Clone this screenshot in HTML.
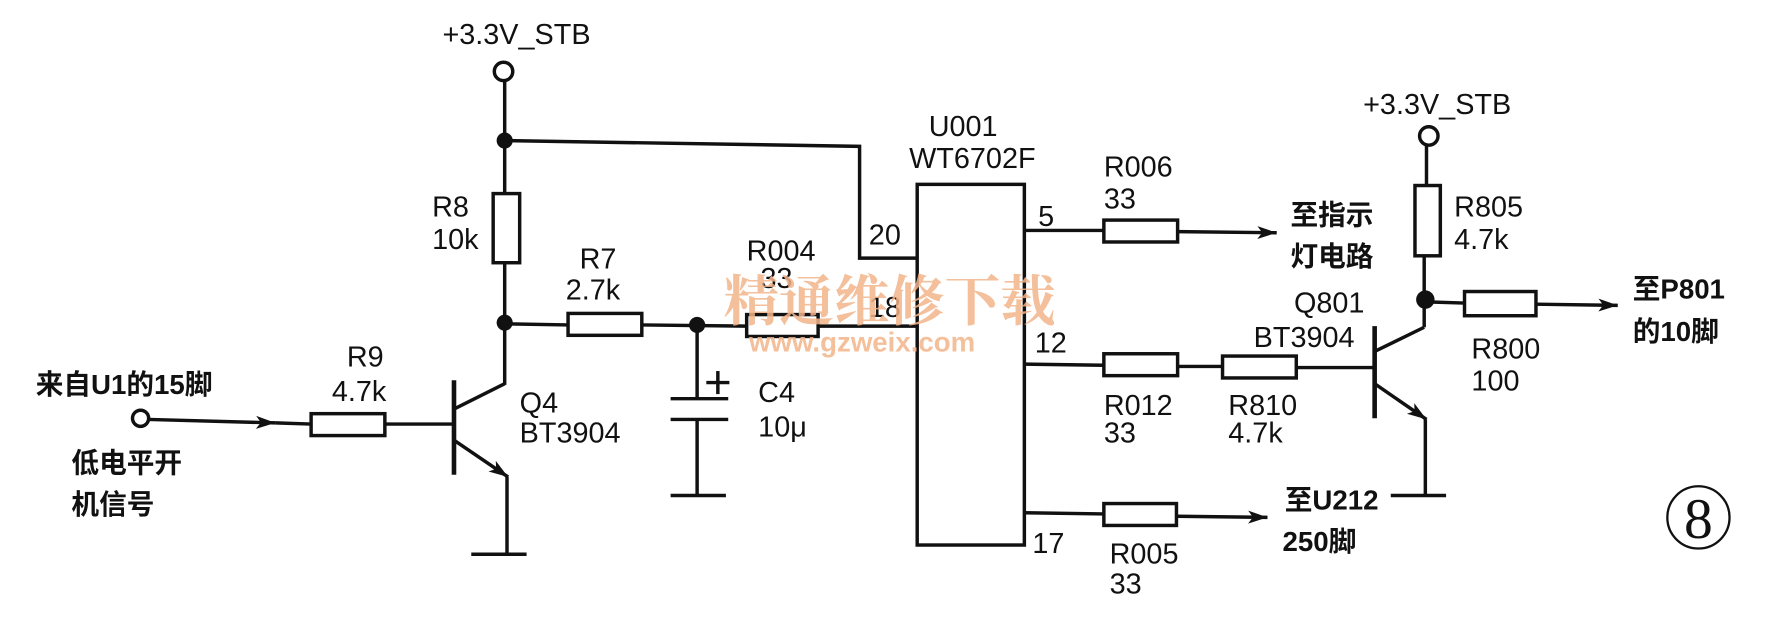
<!DOCTYPE html>
<html><head><meta charset="utf-8"><style>html,body{margin:0;padding:0;background:#fff}svg{display:block}</style></head>
<body>
<svg width="1786" height="628" viewBox="0 0 1550 545" preserveAspectRatio="none" xmlns="http://www.w3.org/2000/svg">
<defs><marker id="a" viewBox="0 0 12 10" refX="12" refY="5" markerWidth="24" markerHeight="14" markerUnits="userSpaceOnUse" orient="auto"><path d="M0,1 L12,5 L0,9 L3,5 Z" fill="#111"/></marker></defs>
<rect width="1550" height="545" fill="#fff"/>
<g stroke="#111" stroke-width="3" fill="none">
<circle cx="437" cy="62" r="8"/>
<line x1="438" y1="70" x2="438" y2="168"/>
<rect x="428" y="168" width="23" height="60" fill="#fff"/>
<line x1="438" y1="228" x2="438" y2="334"/>
<polyline points="438,122 746,127 746,224 796,224"/>
<line x1="438" y1="281" x2="493" y2="282"/>
<rect x="493" y="272" width="64" height="19"/>
<line x1="557" y1="282" x2="648" y2="283"/>
<rect x="648" y="273" width="62" height="19"/>
<line x1="710" y1="283" x2="796" y2="283"/>
<line x1="605" y1="283" x2="605" y2="346"/>
<line x1="582" y1="346" x2="632" y2="346"/>
<line x1="582" y1="364" x2="632" y2="364"/>
<line x1="605" y1="364" x2="605" y2="430"/>
<line x1="582" y1="430" x2="630" y2="430"/>
<line x1="623" y1="322" x2="623" y2="342"/><line x1="613" y1="332" x2="633" y2="332"/>
<line x1="394" y1="330" x2="394" y2="412" stroke-width="4"/>
<line x1="394" y1="355" x2="438" y2="333"/>
<line x1="394" y1="382" x2="441" y2="414" marker-end="url(#a)"/>
<line x1="440" y1="414" x2="440" y2="481"/>
<line x1="409" y1="481" x2="457" y2="481"/>
<line x1="334" y1="368" x2="394" y2="368"/>
<rect x="270" y="359" width="64" height="19"/>
<circle cx="122" cy="363" r="7"/>
<line x1="129" y1="364" x2="239" y2="367" marker-end="url(#a)"/>
<line x1="239" y1="367" x2="270" y2="368"/>
<rect x="796" y="160" width="93" height="313"/>
<line x1="889" y1="200" x2="958" y2="200"/>
<rect x="958" y="191" width="64" height="19"/>
<line x1="1022" y1="201" x2="1108" y2="202" marker-end="url(#a)"/>
<line x1="889" y1="316" x2="958" y2="317"/>
<rect x="958" y="307" width="64" height="19"/>
<line x1="1022" y1="318" x2="1061" y2="318"/>
<rect x="1061" y="309" width="64" height="19"/>
<line x1="1125" y1="319" x2="1193" y2="319"/>
<line x1="889" y1="445" x2="958" y2="446"/>
<rect x="958" y="437" width="63" height="19"/>
<line x1="1021" y1="448" x2="1100" y2="449" marker-end="url(#a)"/>
<line x1="1193" y1="283" x2="1193" y2="363" stroke-width="4"/>
<line x1="1193" y1="305" x2="1236" y2="284"/>
<line x1="1236" y1="284" x2="1236" y2="222"/>
<line x1="1193" y1="333" x2="1238" y2="364" marker-end="url(#a)"/>
<line x1="1237" y1="364" x2="1237" y2="430"/>
<line x1="1207" y1="430" x2="1255" y2="430"/>
<circle cx="1240" cy="118" r="8"/>
<line x1="1238" y1="126" x2="1238" y2="161"/>
<rect x="1228" y="161" width="22" height="61"/>
<line x1="1238" y1="262" x2="1271" y2="263"/>
<rect x="1271" y="253" width="62" height="21"/>
<line x1="1333" y1="264" x2="1404" y2="265" marker-end="url(#a)"/>
<circle cx="1474" cy="449" r="27" stroke-width="2"/>
</g>
<g fill="#111">
<circle cx="438" cy="122" r="7"/><circle cx="438" cy="280" r="7"/><circle cx="605" cy="282" r="7"/><circle cx="1237" cy="260" r="8"/>
</g>
<g font-family="Liberation Sans, sans-serif" font-size="25" fill="#111">
<text x="384" y="38">+3.3V_STB</text>
<text x="375" y="188">R8</text><text x="375" y="216">10k</text>
<text x="503" y="233">R7</text><text x="491" y="260">2.7k</text>
<text x="648" y="226">R004</text><text x="660" y="250">33</text>
<text x="754" y="212">20</text><text x="754" y="275">18</text>
<text x="301" y="318">R9</text><text x="288" y="348">4.7k</text>
<text x="451" y="358">Q4</text><text x="451" y="384">BT3904</text>
<text x="658" y="349">C4</text><text x="658" y="379">10μ</text>
<text x="806" y="118">U001</text><text x="789" y="146">WT6702F</text>
<text x="901" y="196">5</text><text x="898" y="306">12</text><text x="896" y="480">17</text>
<text x="958" y="153">R006</text><text x="958" y="181">33</text>
<text x="958" y="360">R012</text><text x="958" y="384">33</text>
<text x="1066" y="360">R810</text><text x="1066" y="384">4.7k</text>
<text x="1123" y="271">Q801</text><text x="1088" y="301">BT3904</text>
<text x="1183" y="99">+3.3V_STB</text>
<text x="1262" y="188">R805</text><text x="1262" y="216">4.7k</text>
<text x="1277" y="311">R800</text><text x="1277" y="339">100</text>
<text x="963" y="489">R005</text><text x="963" y="515">33</text>
</g>
<g font-family="Liberation Sans, 'Noto Sans CJK SC', sans-serif" font-size="24" font-weight="bold" fill="#111">
<text x="31" y="342">来自U1的15脚</text>
<text x="62" y="410">低电平开</text><text x="62" y="446">机信号</text>
<text x="1120" y="195">至指示</text><text x="1120" y="231">灯电路</text>
<text x="1417" y="259">至P801</text><text x="1417" y="296">的10脚</text>
<text x="1115" y="442">至U212</text><text x="1113" y="478">250脚</text>
</g>
<text x="1474" y="467" text-anchor="middle" font-family="Liberation Serif, serif" font-size="50" fill="#111">8</text>
<g fill="#f3b48a" opacity="0.85">
<text x="628" y="278" font-family="'Noto Serif CJK SC', serif" font-size="48" font-weight="bold">精通维修下载</text>
<text x="650" y="305" font-family="Liberation Sans, sans-serif" font-size="24" font-weight="bold">www.gzweix.com</text>
</g>
</svg>
</body></html>
